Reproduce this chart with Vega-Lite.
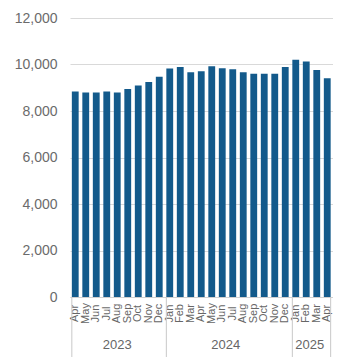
{
  "$schema": "https://vega.github.io/schema/vega-lite/v6.json",
  "width": 262.5,
  "height": 279,
  "autosize": "none",
  "padding": {"left": 70, "top": 18, "right": 20.5, "bottom": 65},
  "background": "white",
  "config": {
    "view": {"stroke": null},
    "font": "Liberation Sans",
    "axis": {"labelFont": "Liberation Sans", "titleFont": "Liberation Sans"}
  },
  "layer": [
    {
      "data": {"values": [
        {"ym": "2023-04", "v": 8840},
        {"ym": "2023-05", "v": 8800},
        {"ym": "2023-06", "v": 8800},
        {"ym": "2023-07", "v": 8840},
        {"ym": "2023-08", "v": 8800},
        {"ym": "2023-09", "v": 8950},
        {"ym": "2023-10", "v": 9100},
        {"ym": "2023-11", "v": 9250},
        {"ym": "2023-12", "v": 9470},
        {"ym": "2024-01", "v": 9830},
        {"ym": "2024-02", "v": 9890},
        {"ym": "2024-03", "v": 9670},
        {"ym": "2024-04", "v": 9710},
        {"ym": "2024-05", "v": 9930},
        {"ym": "2024-06", "v": 9840},
        {"ym": "2024-07", "v": 9800},
        {"ym": "2024-08", "v": 9670},
        {"ym": "2024-09", "v": 9600},
        {"ym": "2024-10", "v": 9600},
        {"ym": "2024-11", "v": 9600},
        {"ym": "2024-12", "v": 9890},
        {"ym": "2025-01", "v": 10200},
        {"ym": "2025-02", "v": 10130},
        {"ym": "2025-03", "v": 9760},
        {"ym": "2025-04", "v": 9410}
      ]},
      "mark": {"type": "bar", "color": "#135a8b"},
      "encoding": {
        "x": {
          "field": "ym", "type": "nominal", "sort": "ascending",
          "scale": {"paddingInner": 0.35, "paddingOuter": 0.175},
          "axis": {
            "title": null, "ticks": false, "tickSize": 0,
            "domainColor": "#d0d0d0",
            "labelAngle": -90, "labelAlign": "center", "labelBaseline": "middle",
            "labelPadding": 16, "labelFontSize": 11, "labelColor": "#666666",
            "labelOverlap": false,
            "labelExpr": "['Jan','Feb','Mar','Apr','May','Jun','Jul','Aug','Sep','Oct','Nov','Dec'][toNumber(slice(datum.value,5,7))-1]"
          }
        },
        "y": {
          "field": "v", "type": "quantitative",
          "scale": {"domain": [0, 12000], "nice": false},
          "axis": {
            "title": null, "values": [0, 2000, 4000, 6000, 8000, 10000, 12000],
            "format": ",d", "domain": false, "ticks": false,
            "labelPadding": 13, "labelFontSize": 14, "labelColor": "#6b6b6b",
            "gridColor": "#d9d9d9"
          }
        }
      }
    },
    {
      "data": {"values": [{"ym": "2023-04"}, {"ym": "2024-01"}, {"ym": "2025-01"}]},
      "mark": {"type": "rule", "color": "#c8c8c8", "strokeWidth": 1},
      "encoding": {
        "x": {"field": "ym", "type": "nominal", "bandPosition": 0},
        "y": {"datum": 0},
        "y2": {"datum": -2580}
      }
    },
    {
      "data": {"values": [{"ym": "2025-04"}]},
      "mark": {"type": "rule", "color": "#c8c8c8", "strokeWidth": 1},
      "encoding": {
        "x": {"field": "ym", "type": "nominal", "bandPosition": 1},
        "y": {"datum": 0},
        "y2": {"datum": -2580}
      }
    },
    {
      "data": {"values": [{"ym": "2023-08", "year": "2023"}]},
      "mark": {"type": "text", "fontSize": 13, "color": "#666666", "baseline": "middle"},
      "encoding": {
        "x": {"field": "ym", "type": "nominal", "bandPosition": 0.5},
        "y": {"datum": -2070},
        "text": {"field": "year"}
      }
    },
    {
      "data": {"values": [{"ym": "2024-06", "year": "2024"}, {"ym": "2025-02", "year": "2025"}]},
      "mark": {"type": "text", "fontSize": 13, "color": "#666666", "baseline": "middle"},
      "encoding": {
        "x": {"field": "ym", "type": "nominal", "bandPosition": 1},
        "y": {"datum": -2070},
        "text": {"field": "year"}
      }
    }
  ]
}
